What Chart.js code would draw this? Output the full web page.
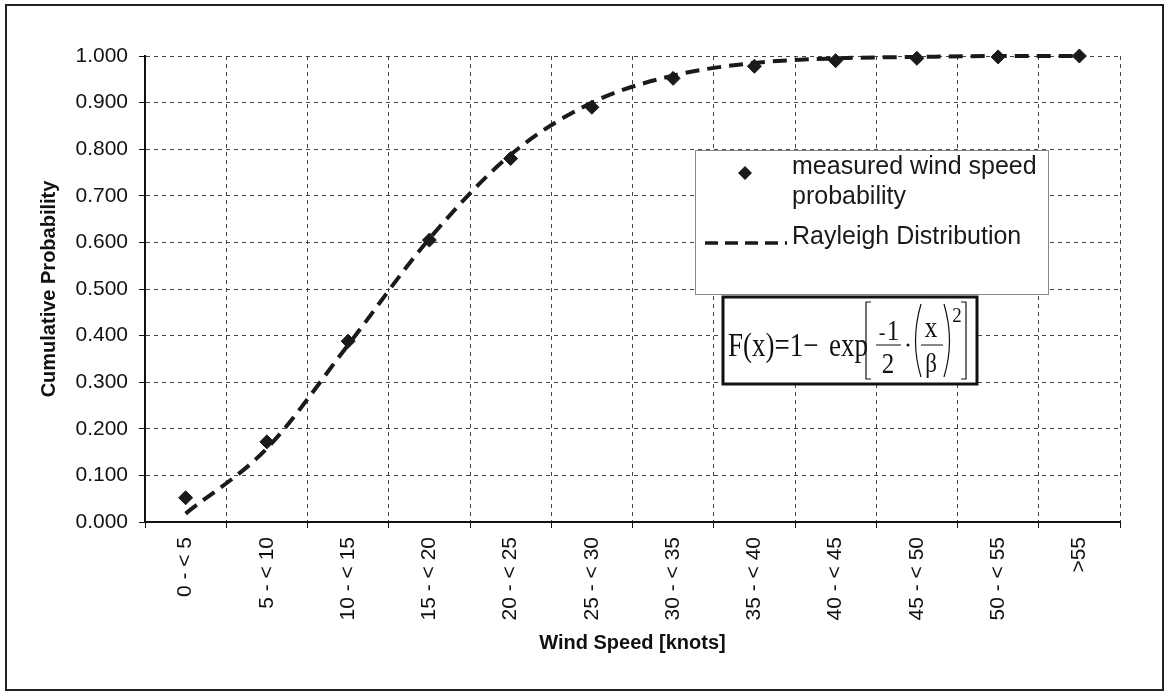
<!DOCTYPE html>
<html>
<head>
<meta charset="utf-8">
<script src="https://cdn.jsdelivr.net/npm/chart.js@4/dist/chart.umd.min.js"></script>
<style>
  html, body { margin: 0; padding: 0; background: #fff; }
  #wrap { width: 1164px; height: 692px; }
</style>
</head>
<body>
<div id="wrap"><canvas id="windChart" width="1164" height="692"></canvas></div>
<script>
// wind speed bins and cumulative probabilities
const categories = ['0 - < 5', '5 - < 10', '10 - < 15', '15 - < 20', '20 - < 25', '25 - < 30',
  '30 - < 35', '35 - < 40', '40 - < 45', '45 - < 50', '50 - < 55', '>55'];
const measured = [0.052, 0.172, 0.388, 0.605, 0.780, 0.890, 0.952, 0.978, 0.990, 0.995, 0.998, 1.000];
const rayleigh = [0.018, 0.158, 0.380, 0.608, 0.788, 0.900, 0.958, 0.985, 0.995, 0.998, 1.000, 1.000];
const yTicks = [0, 0.1, 0.2, 0.3, 0.4, 0.5, 0.6, 0.7, 0.8, 0.9, 1.0];

const INK = '#1a1a1a';
const SANS = '"Liberation Sans", Arial, sans-serif';
const SERIF = '"Liberation Serif", "Times New Roman", serif';

// page frame + legend box + formula box
const extras = {
  id: 'extras',
  beforeDraw(chart) {
    const ctx = chart.ctx;
    ctx.save();
    ctx.fillStyle = '#fff';
    ctx.fillRect(0, 0, chart.width, chart.height);
    ctx.strokeStyle = '#222';
    ctx.lineWidth = 2;
    ctx.strokeRect(6, 5, 1157, 685);
    ctx.restore();
  },
  afterDraw(chart) {
    const ctx = chart.ctx;
    ctx.save();

    // legend
    ctx.fillStyle = '#fff';
    ctx.fillRect(695, 150, 353, 144);
    ctx.strokeStyle = '#888';
    ctx.lineWidth = 1;
    ctx.strokeRect(695.5, 150.5, 353, 144);

    ctx.fillStyle = INK;
    ctx.beginPath();
    ctx.moveTo(745, 166); ctx.lineTo(752, 173); ctx.lineTo(745, 180); ctx.lineTo(738, 173);
    ctx.closePath();
    ctx.fill();

    ctx.strokeStyle = INK;
    ctx.lineWidth = 3.5;
    ctx.setLineDash([13, 7]);
    ctx.beginPath();
    ctx.moveTo(705, 243); ctx.lineTo(787, 243);
    ctx.stroke();
    ctx.setLineDash([]);

    ctx.font = '25px ' + SANS;
    ctx.textBaseline = 'middle';
    ctx.textAlign = 'left';
    ctx.fillText('measured wind speed', 792, 167);
    ctx.fillText('probability', 792, 197);
    ctx.fillText('Rayleigh Distribution', 792, 237);

    // formula box
    ctx.fillStyle = '#fff';
    ctx.fillRect(723, 297, 254, 87);
    ctx.strokeStyle = '#111';
    ctx.lineWidth = 3;
    ctx.strokeRect(723, 297, 254, 87);

    ctx.fillStyle = '#111';
    ctx.textBaseline = 'alphabetic';
    const stretched = (txt, x, y, size, sy) => {
      ctx.save();
      ctx.translate(x, y);
      ctx.scale(1, sy);
      ctx.font = size + 'px ' + SERIF;
      ctx.fillText(txt, 0, 0);
      ctx.restore();
    };
    stretched('F(x)=1\u2212', 728, 356, 27, 1.22);
    stretched('exp', 829, 356, 27, 1.22);

    ctx.textAlign = 'center';
    stretched('-', 882, 339, 20, 1.1);
    stretched('1', 893, 340, 25, 1.15);
    stretched('2', 888, 373, 25, 1.15);
    stretched('x', 931, 337, 25, 1.15);
    stretched('\u03b2', 931, 372, 23, 1.15);
    stretched('2', 957, 322, 19, 1.1);

    ctx.lineWidth = 1.2;
    ctx.strokeStyle = '#111';
    ctx.beginPath();
    ctx.moveTo(876, 345); ctx.lineTo(901, 345);
    ctx.moveTo(921, 345); ctx.lineTo(943, 345);
    // brackets
    ctx.moveTo(871, 302); ctx.lineTo(866, 302); ctx.lineTo(866, 379); ctx.lineTo(871, 379);
    ctx.moveTo(961, 302); ctx.lineTo(966, 302); ctx.lineTo(966, 379); ctx.lineTo(961, 379);
    // parentheses
    ctx.moveTo(921, 304); ctx.quadraticCurveTo(910, 341, 921, 377);
    ctx.moveTo(944, 304); ctx.quadraticCurveTo(955, 341, 944, 377);
    ctx.stroke();
    ctx.beginPath();
    ctx.arc(908, 345, 1.5, 0, Math.PI * 2);
    ctx.fill();

    ctx.restore();
  }
};

new Chart(document.getElementById('windChart'), {
  type: 'line',
  data: {
    labels: categories,
    datasets: [{
      label: 'measured wind speed probability',
      data: measured,
      showLine: false,
      pointStyle: 'rectRot',
      pointRadius: 7,
      pointBackgroundColor: INK,
      pointBorderColor: INK,
      clip: false
    }, {
      label: 'Rayleigh Distribution',
      data: rayleigh,
      borderColor: INK,
      borderWidth: 4,
      borderDash: [14, 8],
      pointRadius: 0,
      cubicInterpolationMode: 'monotone',
      fill: false,
      clip: false
    }]
  },
  options: {
    responsive: false,
    animation: false,
    layout: { padding: { left: 25, top: 56, right: 44, bottom: 20 } },
    plugins: {
      legend: { display: false },
      tooltip: { enabled: false }
    },
    scales: {
      x: {
        offset: true,
        grid: {
          offset: true,
          color: '#444',
          lineWidth: 1,
          tickLength: 6,
          tickColor: '#111',
          tickBorderDash: []
        },
        border: { color: '#111', width: 2, dash: [4, 4] },
        ticks: {
          color: '#111',
          font: { family: SANS, size: 21 },
          minRotation: 90,
          maxRotation: 90,
          autoSkip: false,
          padding: 9
        },
        title: {
          display: true,
          text: 'Wind Speed [knots]',
          color: '#111',
          font: { family: SANS, size: 20, weight: 'bold' },
          padding: { top: 0, bottom: 17 }
        },
        afterFit(scale) { scale.height = 150; }
      },
      y: {
        min: 0,
        max: 1,
        afterBuildTicks(scale) { scale.ticks = yTicks.map(v => ({ value: v })); },
        grid: {
          color: '#444',
          lineWidth: 1,
          tickLength: 6,
          tickColor: '#111',
          tickBorderDash: []
        },
        border: { color: '#111', width: 2, dash: [4, 4] },
        ticks: {
          color: '#111',
          font: { family: SANS, size: 21 },
          padding: 11,
          callback: v => Number(v).toFixed(3)
        },
        title: {
          display: true,
          text: 'Cumulative Probability',
          color: '#111',
          font: { family: SANS, size: 20, weight: 'bold' },
          padding: { top: 12, bottom: 0 }
        },
        afterFit(scale) { scale.width = 120; }
      }
    }
  },
  plugins: [extras]
});
</script>
</body>
</html>
